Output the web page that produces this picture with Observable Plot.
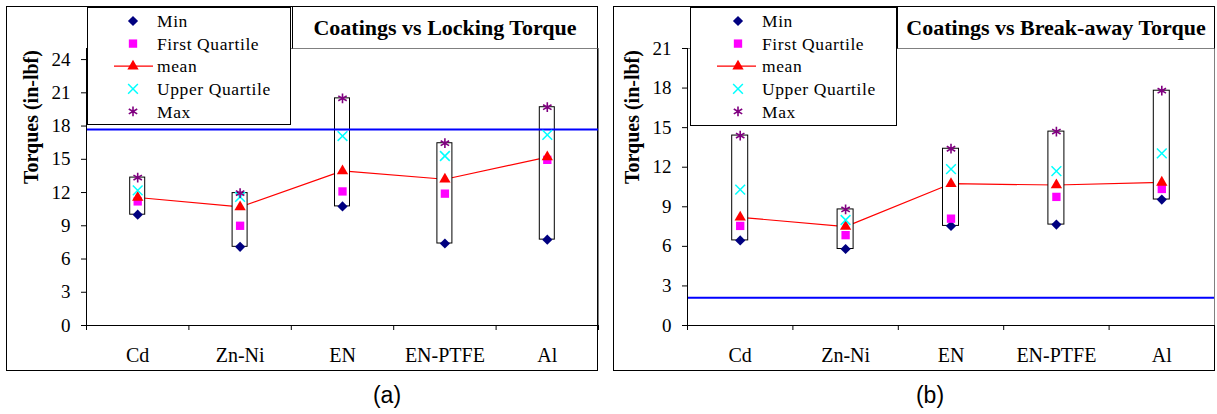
<!DOCTYPE html>
<html><head><meta charset="utf-8">
<script src="https://cdn.jsdelivr.net/npm/d3@7"></script>
<script src="https://cdn.jsdelivr.net/npm/@observablehq/plot@0.6"></script>
<style>
body{margin:0;background:#fff;}
#root{position:relative;width:1217px;height:414px;overflow:hidden;font-family:"Liberation Serif",serif;background:#fff;}
.frame{position:absolute;border:1px solid #000;box-sizing:border-box;}
.legend{position:absolute;background:#fff;border:1px solid #000;box-sizing:border-box;}
.titlebox{position:absolute;background:#fff;border:1px solid #000;border-bottom:1px solid #808080;box-sizing:border-box;font-weight:bold;font-size:22px;display:flex;align-items:center;justify-content:center;font-family:"Liberation Serif",serif;white-space:nowrap;}
</style>
</head><body><div id="root"></div>
<script>
// ---- data ----
const categories = ["Cd", "Zn-Ni", "EN", "EN-PTFE", "Al"];
const legendLabels = ["Min", "First Quartile", "mean", "Upper Quartile", "Max"];
const yLabel = "Torques (in-lbf)";

// (a) Locking torque
const titleA = "Coatings vs Locking Torque";
const minA  = [10.0, 7.1, 10.75, 7.4, 7.75];
const q1A   = [11.2, 9.0, 12.1, 11.9, 14.95];
const meanA = [11.55, 10.7, 13.95, 13.2, 15.2];
const uqA   = [12.2, 11.6, 17.1, 15.3, 17.2];
const maxA  = [13.35, 11.95, 20.5, 16.45, 19.7];
const refA  = 17.7;
const yTicksA = [0, 3, 6, 9, 12, 15, 18, 21, 24];
const yMaxA = 25;

// (b) Break-away torque
const titleB = "Coatings vs Break-away Torque";
const minB  = [6.45, 5.8, 7.55, 7.65, 9.55];
const q1B   = [7.55, 6.85, 8.1, 9.75, 10.35];
const meanB = [8.2, 7.5, 10.75, 10.65, 10.85];
const uqB   = [10.3, 8.0, 11.85, 11.7, 13.05];
const maxB  = [14.4, 8.8, 13.4, 14.7, 17.8];
const refB  = 2.1;
const yTicksB = [0, 3, 6, 9, 12, 15, 18, 21];
const yMaxB = 21;

const captions = ["(a)", "(b)"];

// ---- styles ----
const sym = {
  min:  {symbol: "diamond2", r: 4.6, fill: "#000080", stroke: "none"},
  q1:   {symbol: "square", r: 4.7, fill: "#ff00ff", stroke: "none"},
  mean: {symbol: "triangle", r: 4.2, fill: "#ff0000", stroke: "none"},
  uq:   {symbol: "times", r: 4.5, fill: "none", stroke: "#00ffff", strokeWidth: 1.5},
  max:  {symbol: "asterisk", r: 4.6, fill: "none", stroke: "#800080", strokeWidth: 1.6}
};
const symKeys = ["min", "q1", "mean", "uq", "max"];
const d3sym = {diamond2: d3.symbolDiamond2, square: d3.symbolSquare, triangle: d3.symbolTriangle, times: d3.symbolTimes, asterisk: d3.symbolAsterisk};

const root = document.getElementById("root");

function box(cls, l, t, w, h) {
  const d = document.createElement("div");
  d.className = cls;
  Object.assign(d.style, {left: l + "px", top: t + "px", width: w + "px", height: h + "px"});
  root.appendChild(d);
  return d;
}

function panel(p) {
  box("frame", p.frame[0], p.frame[1], p.frame[2], p.frame[3]);
  const n = categories.length;
  const rows = categories.map((c, i) => ({c, i, min: p.min[i], q1: p.q1[i], mean: p.mean[i], uq: p.uq[i], max: p.max[i]}));
  const cx = d => d.i + 0.5;
  const dots = symKeys.map(k => Plot.dot(rows, {x: cx, y: k, ...sym[k]}));
  const svg = Plot.plot({
    width: p.svgW, height: 414,
    marginLeft: p.plotL - p.svgL, marginRight: p.svgL + p.svgW - p.plotR,
    marginTop: 48, marginBottom: 414 - 325,
    style: {background: "transparent", maxWidth: "none", position: "absolute", left: p.svgL + "px", top: "0px",
            overflow: "visible", fontFamily: "Liberation Serif, serif", fontSize: "19px", color: "#000"},
    x: {domain: [0, n], label: null},
    y: {domain: [0, p.yMax], label: null},
    marks: [
      Plot.frame({stroke: "#808080"}),
      Plot.line(rows, {x: cx, y: "mean", stroke: "#ff0000", strokeWidth: 1.2}),
      Plot.rect(rows, {x1: "i", x2: d => d.i + 1, y1: "min", y2: "max", insetLeft: p.inset, insetRight: p.inset, fill: "#fff", stroke: "#000", strokeWidth: 1}),
      Plot.ruleY([p.ref], {stroke: "#0000ff", strokeWidth: 2}),
      ...dots,
      Plot.ruleX([0], {stroke: "#000"}),
      Plot.ruleY([0], {stroke: "#000"}),
      Plot.axisY(p.yTicks, {tickSize: 5, tickPadding: 11, fontSize: 19, label: null}),
      Plot.axisX(d3.range(n + 1), {tickSize: 5, tickFormat: () => "", label: null}),
      Plot.axisX(categories.map((c, i) => i + 0.5), {tickSize: 0, tickPadding: 22, fontSize: 20, tickFormat: v => categories[Math.floor(v)], label: null}),
      Plot.text([yLabel], {frameAnchor: "left", rotate: -90, dx: -55, dy: -3, fontWeight: "bold", fontSize: 20})
    ]
  });
  root.appendChild(svg);

  // legend
  const lg = box("legend", p.legend[0], p.legend[1], p.legend[2], p.legend[3]);
  const ls = d3.create("svg").attr("width", p.legend[2]).attr("height", p.legend[3])
    .style("position", "absolute").style("left", "-1px").style("top", "-1px").style("overflow", "visible");
  legendLabels.forEach((lab, k) => {
    const cy = 14 + k * 22.6;
    const s = sym[symKeys[k]];
    if (symKeys[k] === "mean") {
      ls.append("line").attr("x1", 27).attr("x2", 66).attr("y1", cy).attr("y2", cy).attr("stroke", "#ff0000").attr("stroke-width", 1.2);
    }
    ls.append("path")
      .attr("transform", `translate(${p.legSymX},${cy})`)
      .attr("d", d3.symbol(d3sym[s.symbol], Math.PI * s.r * s.r)())
      .attr("fill", s.fill).attr("stroke", s.stroke).attr("stroke-width", s.strokeWidth || 0);
    ls.append("text").attr("x", p.legTextX).attr("y", cy).attr("dy", "0.35em")
      .attr("font-family", "Liberation Serif, serif").attr("font-size", 17.5).attr("letter-spacing", 0.6).text(lab);
  });
  lg.appendChild(ls.node());

  // title
  const tb = box("titlebox", p.title[0], p.title[1], p.title[2], p.title[3]);
  tb.textContent = p.titleText;
}

panel({frame: [6, 6, 592, 365], svgL: 0, svgW: 604, plotL: 86, plotR: 598, inset: 43.7,
  min: minA, q1: q1A, mean: meanA, uq: uqA, max: maxA, ref: refA, yTicks: yTicksA, yMax: yMaxA,
  legend: [87, 7, 204, 118], legSymX: 46, legTextX: 70, title: [292, 6, 306, 43], titleText: titleA});
panel({frame: [613, 6, 602, 365], svgL: 604, svgW: 613, plotL: 687, plotR: 1214, inset: 44.7,
  min: minB, q1: q1B, mean: meanB, uq: uqB, max: maxB, ref: refB, yTicks: yTicksB, yMax: yMaxB,
  legend: [690, 7, 207, 119], legSymX: 48, legTextX: 72, title: [897, 6, 318, 43], titleText: titleB});

// captions
const cap = d3.create("svg").attr("width", 1217).attr("height", 414)
  .style("position", "absolute").style("left", "0px").style("top", "0px").style("pointer-events", "none");
[[387, captions[0]], [930, captions[1]]].forEach(([x, t]) => {
  cap.append("text").attr("x", x).attr("y", 403).attr("text-anchor", "middle")
    .attr("font-family", "Liberation Sans, Arial, sans-serif").attr("font-size", 23).text(t);
});
root.appendChild(cap.node());
</script>
</body></html>
